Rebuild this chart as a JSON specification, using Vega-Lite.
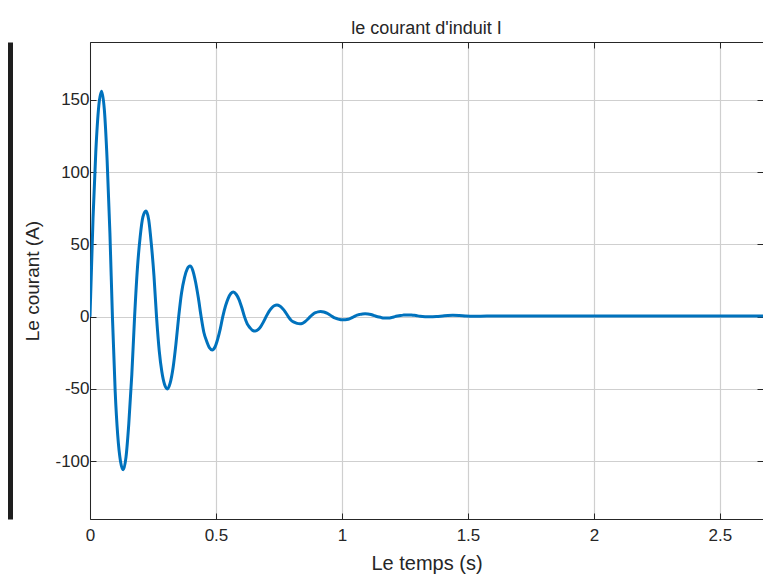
{
  "$schema": "https://vega.github.io/schema/vega-lite/v6.json",
  "autosize": "none",
  "padding": {"left": 90, "top": 42, "right": 0, "bottom": 55},
  "width": 673,
  "height": 477,
  "background": "white",
  "title": {"text": "le courant d'induit I", "fontSize": 18, "font": "Liberation Sans", "fontWeight": "normal", "color": "#262626", "offset": 4, "anchor": "middle"},
  "data": {"values": [
    {"t": 0, "i": 0}, {"t": 0.012, "i": 68}, {"t": 0.023, "i": 114}, {"t": 0.035, "i": 146}, {"t": 0.046, "i": 156}, {"t": 0.057, "i": 143}, {"t": 0.068, "i": 108}, {"t": 0.079, "i": 58}, {"t": 0.089, "i": 0},
    {"t": 0.1, "i": -52}, {"t": 0.11, "i": -82}, {"t": 0.121, "i": -100}, {"t": 0.132, "i": -106}, {"t": 0.143, "i": -97}, {"t": 0.154, "i": -74}, {"t": 0.166, "i": -40}, {"t": 0.177, "i": 0},
    {"t": 0.188, "i": 33}, {"t": 0.199, "i": 55}, {"t": 0.21, "i": 69}, {"t": 0.222, "i": 73}, {"t": 0.233, "i": 67}, {"t": 0.243, "i": 51}, {"t": 0.254, "i": 28}, {"t": 0.264, "i": 0},
    {"t": 0.275, "i": -24}, {"t": 0.285, "i": -38}, {"t": 0.296, "i": -47}, {"t": 0.307, "i": -50}, {"t": 0.318, "i": -46}, {"t": 0.33, "i": -35}, {"t": 0.341, "i": -19}, {"t": 0.352, "i": 0},
    {"t": 0.363, "i": 16}, {"t": 0.375, "i": 27}, {"t": 0.386, "i": 33}, {"t": 0.397, "i": 35}, {"t": 0.408, "i": 32}, {"t": 0.419, "i": 24}, {"t": 0.43, "i": 13}, {"t": 0.441, "i": 0},
    {"t": 0.452, "i": -11}, {"t": 0.463, "i": -17}, {"t": 0.474, "i": -21.5}, {"t": 0.485, "i": -23}, {"t": 0.496, "i": -21}, {"t": 0.506, "i": -16}, {"t": 0.517, "i": -8.5}, {"t": 0.527, "i": 0},
    {"t": 0.538, "i": 7.5}, {"t": 0.548, "i": 12.5}, {"t": 0.559, "i": 16}, {"t": 0.569, "i": 17}, {"t": 0.58, "i": 15.5}, {"t": 0.591, "i": 12}, {"t": 0.602, "i": 6.5}, {"t": 0.613, "i": 0},
    {"t": 0.624, "i": -5}, {"t": 0.634, "i": -7.5}, {"t": 0.645, "i": -9.5}, {"t": 0.656, "i": -10}, {"t": 0.667, "i": -9}, {"t": 0.677, "i": -7}, {"t": 0.688, "i": -3.8}, {"t": 0.699, "i": 0},
    {"t": 0.71, "i": 3.5}, {"t": 0.72, "i": 5.8}, {"t": 0.731, "i": 7.5}, {"t": 0.742, "i": 8}, {"t": 0.753, "i": 7.3}, {"t": 0.764, "i": 5.6}, {"t": 0.776, "i": 3}, {"t": 0.787, "i": 0},
    {"t": 0.798, "i": -2.5}, {"t": 0.81, "i": -3.8}, {"t": 0.822, "i": -4.7}, {"t": 0.833, "i": -5}, {"t": 0.843, "i": -4.6}, {"t": 0.853, "i": -3.5}, {"t": 0.864, "i": -1.8}, {"t": 0.874, "i": 0},
    {"t": 0.885, "i": 1.7}, {"t": 0.895, "i": 2.7}, {"t": 0.905, "i": 3.3}, {"t": 0.915, "i": 3.5}, {"t": 0.928, "i": 3.2}, {"t": 0.94, "i": 2.4}, {"t": 0.951, "i": 1.3}, {"t": 0.962, "i": 0},
    {"t": 0.974, "i": -1.1}, {"t": 0.985, "i": -1.7}, {"t": 0.996, "i": -2.1}, {"t": 1.008, "i": -2.2}, {"t": 1.019, "i": -2}, {"t": 1.03, "i": -1.5}, {"t": 1.04, "i": -0.7}, {"t": 1.05, "i": 0.2},
    {"t": 1.06, "i": 1}, {"t": 1.07, "i": 1.5}, {"t": 1.081, "i": 1.9}, {"t": 1.092, "i": 2}, {"t": 1.103, "i": 1.9}, {"t": 1.115, "i": 1.5}, {"t": 1.125, "i": 0.9}, {"t": 1.135, "i": 0.3},
    {"t": 1.147, "i": -0.3}, {"t": 1.158, "i": -0.7}, {"t": 1.169, "i": -0.9}, {"t": 1.18, "i": -1}, {"t": 1.19, "i": -0.9}, {"t": 1.2, "i": -0.5}, {"t": 1.21, "i": 0}, {"t": 1.22, "i": 0.4},
    {"t": 1.232, "i": 0.8}, {"t": 1.243, "i": 1.05}, {"t": 1.254, "i": 1.2}, {"t": 1.265, "i": 1.2}, {"t": 1.276, "i": 1.1}, {"t": 1.287, "i": 0.9}, {"t": 1.298, "i": 0.6}, {"t": 1.31, "i": 0.3},
    {"t": 1.33, "i": 0}, {"t": 1.35, "i": -0.1}, {"t": 1.375, "i": 0.1}, {"t": 1.4, "i": 0.5}, {"t": 1.42, "i": 0.8}, {"t": 1.44, "i": 0.9}, {"t": 1.465, "i": 0.8}, {"t": 1.49, "i": 0.5},
    {"t": 1.52, "i": 0.3}, {"t": 1.55, "i": 0.3}, {"t": 1.6, "i": 0.5}, {"t": 1.7, "i": 0.5}, {"t": 1.8, "i": 0.5}, {"t": 1.9, "i": 0.5}, {"t": 2.0, "i": 0.5}, {"t": 2.1, "i": 0.5},
    {"t": 2.2, "i": 0.5}, {"t": 2.3, "i": 0.5}, {"t": 2.4, "i": 0.5}, {"t": 2.5, "i": 0.5}, {"t": 2.6, "i": 0.5}, {"t": 2.671, "i": 0.5}
  ]},
  "layer": [
    {
      "mark": {"type": "line", "color": "#0072BD", "strokeWidth": 3, "interpolate": "monotone", "clip": true},
      "encoding": {
        "x": {"field": "t", "type": "quantitative", "scale": {"domain": [0, 2.671], "nice": false, "zero": false},
          "axis": {"orient": "bottom", "values": [0, 0.5, 1, 1.5, 2, 2.5], "labelExpr": "datum.value + ''", "title": "Le temps (s)", "grid": true, "tickSize": -6, "labelPadding": 14, "titlePadding": 10, "labelFlush": false}},
        "y": {"field": "i", "type": "quantitative", "scale": {"domain": [-140, 190], "nice": false, "zero": false},
          "axis": {"orient": "left", "values": [-100, -50, 0, 50, 100, 150], "labelExpr": "datum.value + ''", "title": "Le courant (A)", "grid": true, "tickSize": -6, "labelPadding": 7, "titlePadding": 12, "titleFontSize": 19}}
      }
    },
    {
      "mark": {"type": "line", "strokeOpacity": 0},
      "encoding": {
        "x": {"field": "t", "type": "quantitative", "axis": {"orient": "top", "values": [0, 0.5, 1, 1.5, 2, 2.5], "labels": false, "grid": false, "tickSize": -6, "title": null}},
        "y": {"field": "i", "type": "quantitative", "axis": {"orient": "right", "values": [-100, -50, 0, 50, 100, 150], "labels": false, "grid": false, "domain": false, "tickSize": -6, "title": null}}
      }
    },
    {
      "mark": {"type": "line", "strokeOpacity": 0},
      "encoding": {
        "x": {"field": "t", "type": "quantitative", "axis": null},
        "y": {"field": "i", "type": "quantitative", "axis": {"orient": "left", "offset": 80, "labels": false, "ticks": false, "grid": false, "domain": true, "domainWidth": 5, "domainColor": "#1e1e1e", "title": null}}
      }
    }
  ],
  "resolve": {"axis": {"x": "independent", "y": "independent"}},
  "config": {
    "view": {"stroke": null},
    "axis": {
      "domainColor": "#262626", "domainWidth": 1, "tickColor": "#262626", "tickWidth": 1,
      "gridColor": "#cfcfcf", "gridWidth": 1.2, "gridOpacity": 1,
      "labelFont": "Liberation Sans", "labelFontSize": 17, "labelColor": "#262626",
      "titleFont": "Liberation Sans", "titleFontSize": 20, "titleFontWeight": "normal", "titleColor": "#262626"
    }
  }
}
